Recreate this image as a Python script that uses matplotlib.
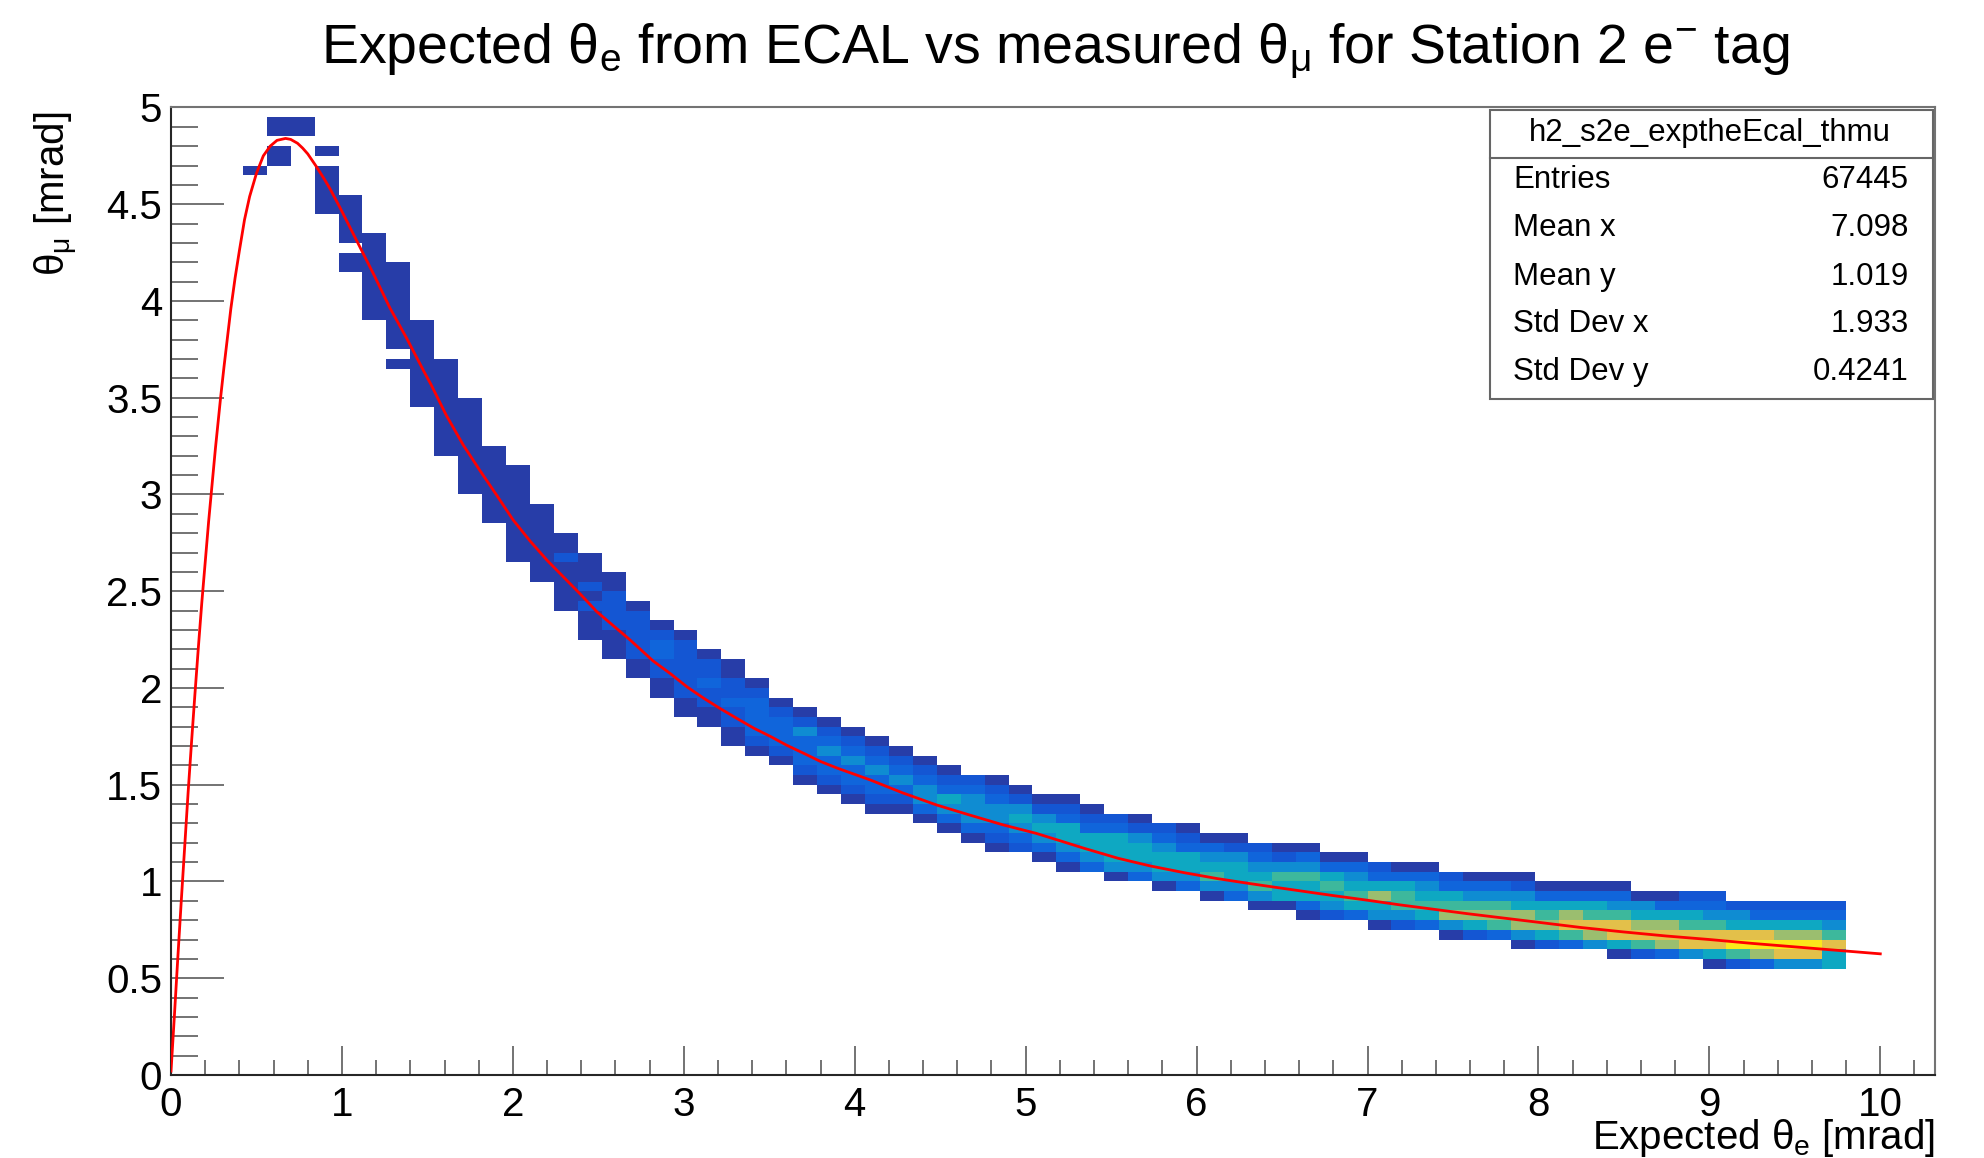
import numpy as np
import matplotlib
matplotlib.use("Agg")
import matplotlib.pyplot as plt
from matplotlib.colors import LinearSegmentedColormap
from matplotlib.patches import Rectangle
from matplotlib.lines import Line2D
from matplotlib.ticker import FuncFormatter

plt.rcParams['font.family'] = ['Liberation Sans', 'DejaVu Sans']
plt.rcParams['mathtext.fontset'] = 'custom'
plt.rcParams['mathtext.rm'] = 'Liberation Sans'
plt.rcParams['mathtext.it'] = 'Liberation Sans'
plt.rcParams['mathtext.bf'] = 'Liberation Sans:bold'

# histogram binning
x_bin = 0.14
y_bin = 0.05
n_xbins = 74
n_ybins = 100

# filled cells: one entry per x bin starting at bin first_col,
# col_lo = lowest filled y bin, col_levels = colour level per y bin going up (0 = empty)
first_col = 3
col_lo = [93, 94, 97, 89, 83, 78, 73, 69, 64, 60, 57, 53, 51, 48, 45, 43, 41, 39, 37, 36,
          34, 33, 32, 30, 29, 28, 27, 27, 26, 25, 24, 23, 23, 22, 21, 21, 20, 20, 19, 19,
          18, 18, 17, 17, 16, 16, 16, 15, 15, 15, 14, 14, 14, 13, 13, 13, 13, 12, 12, 12,
          12, 11, 11, 11, 11, 11, 11]
col_levels = ["1", "11011", "11", "1111101", "11011111", "111111111", "10111111111",
              "111111111", "1111111111", "1111111111", "11111111", "1111111111",
              "11111111", "11111211", "111212111", "111222211", "11222221", "11223321",
              "112222221", "11223221", "112232211", "12333321", "1233321", "12333421",
              "12334321", "12334321", "12334321", "1234321", "1344321", "1345321",
              "1344432", "12344321", "2345421", "1345421", "13455321", "3455321",
              "1455532", "3455421", "1455432", "3455321", "1465431", "3455421",
              "1465432", "1556421", "13556431", "2456531", "3565431", "1457532",
              "2466531", "3565431", "1476532", "2576431", "3676431", "14775421",
              "2576531", "3687531", "4786531", "15886431", "2687541", "3787531",
              "4886532", "15886432", "2698542", "3798532", "4897532", "4897532",
              "5586432"]
level_z = [0.0, 0.05, 0.11, 0.16, 0.29, 0.40, 0.52, 0.66, 0.80, 0.95]

# red curve (expected theta_mu vs theta_e)
curve_te = [0.00, 0.02, 0.04, 0.06, 0.08, 0.10, 0.12, 0.14, 0.16, 0.18, 0.20, 0.22, 0.24,
            0.26, 0.29, 0.31, 0.33, 0.35, 0.375, 0.40, 0.43, 0.46, 0.50, 0.54, 0.58, 0.62,
            0.67, 0.70, 0.74, 0.77, 0.80, 0.85, 0.90, 0.93, 0.99, 1.09, 1.19, 1.28, 1.38,
            1.48, 1.52, 1.61, 1.71, 1.81, 1.91, 2.00, 2.10, 2.20, 2.30, 2.40, 2.49, 2.59,
            2.69, 2.82, 2.92, 3.02, 3.12, 3.21, 3.31, 3.41, 3.51, 3.60, 3.70, 3.80, 3.90,
            4.09, 4.28, 4.48, 4.67, 4.87, 5.06, 5.21, 5.34, 5.54, 5.73, 5.93, 6.12, 6.32,
            6.46, 6.61, 6.80, 7.00, 7.19, 7.39, 7.58, 7.73, 8.00, 8.25, 8.50, 8.75, 9.00,
            9.25, 9.50, 9.75, 10.00]
curve_tmu = [0.02, 0.31, 0.61, 0.90, 1.18, 1.46, 1.72, 1.97, 2.21, 2.44, 2.65, 2.86, 3.05,
             3.24, 3.50, 3.66, 3.81, 3.96, 4.12, 4.26, 4.42, 4.54, 4.66, 4.75, 4.80, 4.83,
             4.84, 4.835, 4.815, 4.79, 4.76, 4.695, 4.625, 4.58, 4.48, 4.305, 4.13, 3.965,
             3.805, 3.635, 3.57, 3.41, 3.255, 3.12, 2.99, 2.87, 2.76, 2.66, 2.57, 2.48,
             2.395, 2.32, 2.245, 2.14, 2.075, 2.005, 1.945, 1.895, 1.843, 1.792, 1.748,
             1.705, 1.663, 1.62, 1.585, 1.525, 1.458, 1.395, 1.344, 1.292, 1.249, 1.208,
             1.172, 1.12, 1.08, 1.045, 1.015, 0.988, 0.970, 0.951, 0.927, 0.903, 0.879,
             0.856, 0.834, 0.818, 0.789, 0.762, 0.739, 0.718, 0.700, 0.680, 0.662, 0.644,
             0.626]

stats_name = "h2_s2e_exptheEcal_thmu"
stats_labels = ["Entries", "Mean x", "Mean y", "Std Dev x", "Std Dev y"]
stats_values = ["67445", "7.098", "1.019", "1.933", "0.4241"]

# ROOT kBird palette
bird_stops = [0.0, 0.125, 0.25, 0.375, 0.5, 0.625, 0.75, 0.875, 1.0]
bird_r = [0.2082, 0.0592, 0.0780, 0.0232, 0.1802, 0.5301, 0.8186, 0.9956, 0.9764]
bird_g = [0.1664, 0.3599, 0.5041, 0.6419, 0.7178, 0.7492, 0.7328, 0.7862, 0.9832]
bird_b = [0.5293, 0.8684, 0.8385, 0.7914, 0.6425, 0.4662, 0.3499, 0.1968, 0.0539]
bird = LinearSegmentedColormap.from_list(
    "bird", list(zip(bird_stops, zip(bird_r, bird_g, bird_b))))

Z = np.full((n_ybins, n_xbins), np.nan)
for k, (lo, lev) in enumerate(zip(col_lo, col_levels)):
    for m, c in enumerate(lev):
        if c != "0":
            Z[lo + m, first_col + k] = level_z[int(c)]
Z = np.ma.masked_invalid(Z)
x_edges = np.arange(n_xbins + 1) * x_bin
y_edges = np.arange(n_ybins + 1) * y_bin

fig = plt.figure(figsize=(19.84, 11.58), dpi=100)
ax = fig.add_axes([0.0862, 0.0717, 0.8891, 0.8355])

ax.pcolormesh(x_edges, y_edges, Z, cmap=bird, vmin=0, vmax=1, antialiased=False, zorder=1)
ax.plot(curve_te, curve_tmu, color="#ff0000", lw=2, zorder=3)

ax.set_xlim(0, 10.32)
ax.set_ylim(0, 5)
ax.set_xticks(np.arange(0, 11, 1))
ax.set_xticks(np.arange(0, 10.33, 0.2), minor=True)
ax.set_yticks(np.arange(0, 5.01, 0.5))
ax.set_yticks(np.arange(0, 5.01, 0.1), minor=True)
ax.yaxis.set_major_formatter(FuncFormatter(lambda v, p: "%g" % v))

ax.tick_params(axis="x", which="major", direction="in", length=21, width=1.1,
               color="0.3", labelsize=29, pad=8)
ax.tick_params(axis="x", which="minor", direction="in", length=10.8, width=1.1, color="0.3")
ax.tick_params(axis="y", which="major", direction="in", length=38, width=1.1,
               color="0.3", labelsize=29, pad=6.5)
ax.tick_params(axis="y", which="minor", direction="in", length=19.5, width=1.1, color="0.3")

for s in ["left", "bottom"]:
    ax.spines[s].set_color("0.15")
    ax.spines[s].set_linewidth(1.5)
for s in ["top", "right"]:
    ax.spines[s].set_color("0.45")
    ax.spines[s].set_linewidth(1.5)

fig.text(0.532, 0.9456,
         r"Expected θ$_{\mathrm{e}}$ from ECAL vs measured θ$_{\mathrm{\mu}}$ for Station 2 e$^{-}$ tag",
         ha="center", va="baseline", fontsize=40)
fig.text(0.9753, 0.0075, r"Expected θ$_{\mathrm{e}}$ [mrad]", ha="right", va="baseline", fontsize=29)
fig.text(0.0287, 0.904, r"θ$_{\mathrm{\mu}}$ [mrad]", rotation=90, ha="center", va="top", fontsize=29)

# stats box
bx0, bx1, by0, by1 = 0.751, 0.9743, 0.6552, 0.905
fig.add_artist(Rectangle((bx0, by0), bx1 - bx0, by1 - by0, transform=fig.transFigure,
                         facecolor="white", edgecolor="0.4", lw=1.5, zorder=5))
fig.add_artist(Line2D([bx0, bx1], [0.8638, 0.8638], transform=fig.transFigure,
                      color="0.4", lw=1.5, zorder=6))
fig.text(0.8619, 0.8849, stats_name, ha="center", va="center", fontsize=22.5, zorder=7)
row_y = [0.8446, 0.8028, 0.7611, 0.7202, 0.679]
for lab, val, yy in zip(stats_labels, stats_values, row_y):
    fig.text(0.7628, yy, lab, ha="left", va="center", fontsize=22.5, zorder=7)
    fig.text(0.9619, yy, val, ha="right", va="center", fontsize=22.5, zorder=7)

fig.savefig("out.png", dpi=100)
